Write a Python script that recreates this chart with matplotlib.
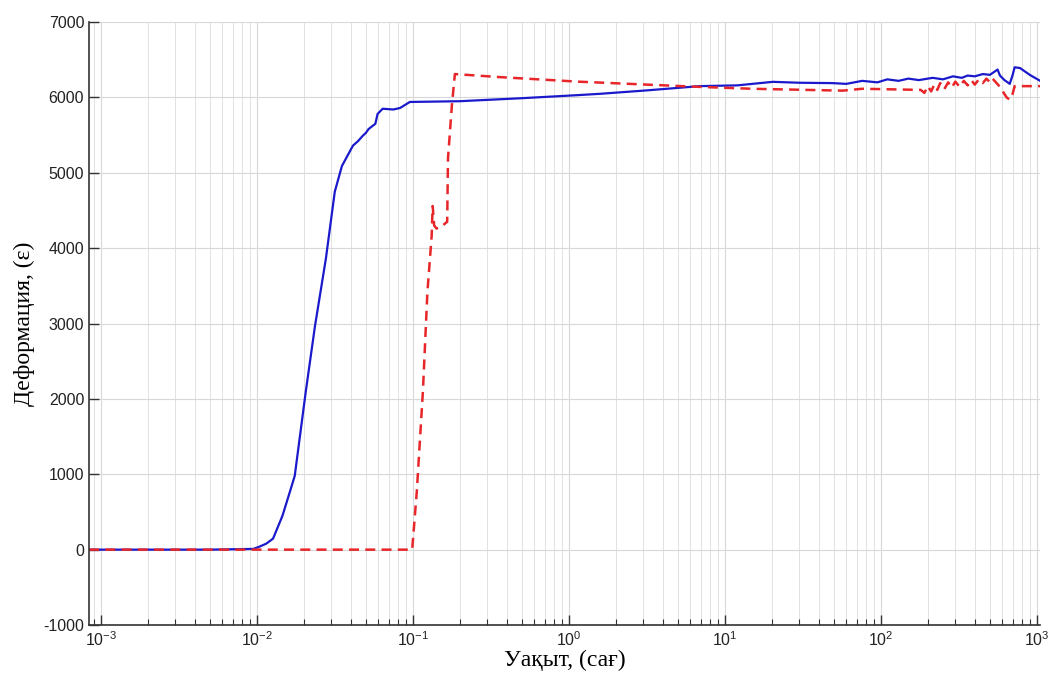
import numpy as np
import matplotlib
matplotlib.use("Agg")
import matplotlib.pyplot as plt
from matplotlib.ticker import FixedLocator, NullFormatter

plt.rcParams['axes.unicode_minus'] = False
plt.rcParams['font.family'] = ['Liberation Sans', 'DejaVu Sans']
plt.rcParams['mathtext.fontset'] = 'custom'
plt.rcParams['mathtext.rm'] = 'Liberation Sans'
plt.rcParams['mathtext.it'] = 'Liberation Sans:italic'

# =========================
# DATOS
# =========================
t_blue = [8.4e-4, 0.005, 0.0095, 0.0104, 0.0115, 0.0127, 0.0146, 0.0163, 0.0175,
          0.0206, 0.0236, 0.0277, 0.0316, 0.0351, 0.0413, 0.0445, 0.0477, 0.05,
          0.052, 0.055, 0.0575, 0.0594, 0.064, 0.075, 0.0828, 0.0957, 0.2, 0.5,
          1.13, 1.58, 3.0, 6.9, 12, 20.3, 30, 49, 60, 76, 95, 110, 130, 150,
          175, 215, 250, 290, 330, 360, 400, 450, 500, 560, 580, 620, 670,
          700, 720, 780, 900, 1050]
e_blue = [0, 0, 10, 40, 80, 146, 450, 770, 980,
          2100, 2970, 3860, 4750, 5090, 5360, 5420, 5490, 5530,
          5580, 5620, 5650, 5780, 5850, 5840, 5860, 5940, 5950, 5990,
          6030, 6048, 6090, 6150, 6160, 6207, 6195, 6190, 6180, 6220, 6200, 6240, 6220, 6250,
          6230, 6260, 6240, 6280, 6260, 6290, 6280, 6310, 6300, 6370, 6290, 6230, 6180,
          6300, 6400, 6390, 6300, 6220]

t_red = [8.4e-4, 0.099, 0.106, 0.116, 0.124, 0.132, 0.134, 0.137, 0.142, 0.155,
         0.166, 0.168, 0.178, 0.186, 0.36, 1.13, 6.9, 15, 57, 76, 180,
         190, 200, 210, 220, 230, 240, 255, 270, 285, 300, 320, 340, 360, 380,
         400, 425, 450, 475, 500, 520, 580, 640, 670, 700, 720, 1050]
e_red = [0, 0, 770, 2100, 3420, 4160, 4560, 4300, 4260, 4300,
         4350, 5190, 5900, 6310, 6270, 6210, 6140, 6115, 6090, 6115, 6100,
         6060, 6150, 6080, 6170, 6100, 6190, 6110, 6200, 6130, 6210, 6140, 6220, 6160, 6230,
         6170, 6240, 6190, 6250, 6200, 6250, 6140, 6000, 5970, 6050, 6150, 6150]

x_ticks = [1e-3, 1e-2, 1e-1, 1e0, 1e1, 1e2, 1e3]
y_ticks = [-1000, 0, 1000, 2000, 3000, 4000, 5000, 6000, 7000]

# =========================
# GRÁFICA
# =========================
fig = plt.figure(figsize=(10.51, 6.79), dpi=100)
ax = fig.add_axes([0.0847, 0.0795, 0.905, 0.888])

ax.plot(t_blue, e_blue, color="#1a1acc", linewidth=1.6)
ax.plot(t_red, e_red, color="#e8262a", linewidth=1.8, linestyle=(0, (4, 2.5)))

ax.set_xscale("log")
ax.set_xlim(8.4e-4, 1.05e3)
ax.set_ylim(-1000, 7000)
ax.set_yticks(y_ticks)
ax.set_xticks(x_ticks)
minors = [m * d for d in x_ticks[:-1] for m in range(2, 10)] + [8e-4, 9e-4]
ax.xaxis.set_minor_locator(FixedLocator(minors))
ax.xaxis.set_minor_formatter(NullFormatter())

ax.grid(which="major", color="#d8d8d8", linewidth=0.8)
ax.grid(which="minor", axis="x", color="#e2e2e2", linewidth=0.7)
ax.set_axisbelow(True)

for s in ["top", "right"]:
    ax.spines[s].set_visible(False)
for s in ["left", "bottom"]:
    ax.spines[s].set_color("#333333")
    ax.spines[s].set_linewidth(1.2)

ax.tick_params(which="major", direction="in", length=7, width=1, labelsize=11.5,
               colors="#333333", labelcolor="#222222")
ax.tick_params(which="minor", direction="in", length=4, width=0.8, colors="#333333")

ax.set_xlabel("Уақыт, (сағ)", family="Liberation Serif", fontsize=17, labelpad=1)
ax.set_ylabel("Деформация, (ε)", family="Liberation Serif", fontsize=17, labelpad=6)

fig.savefig("out.png", dpi=100)
